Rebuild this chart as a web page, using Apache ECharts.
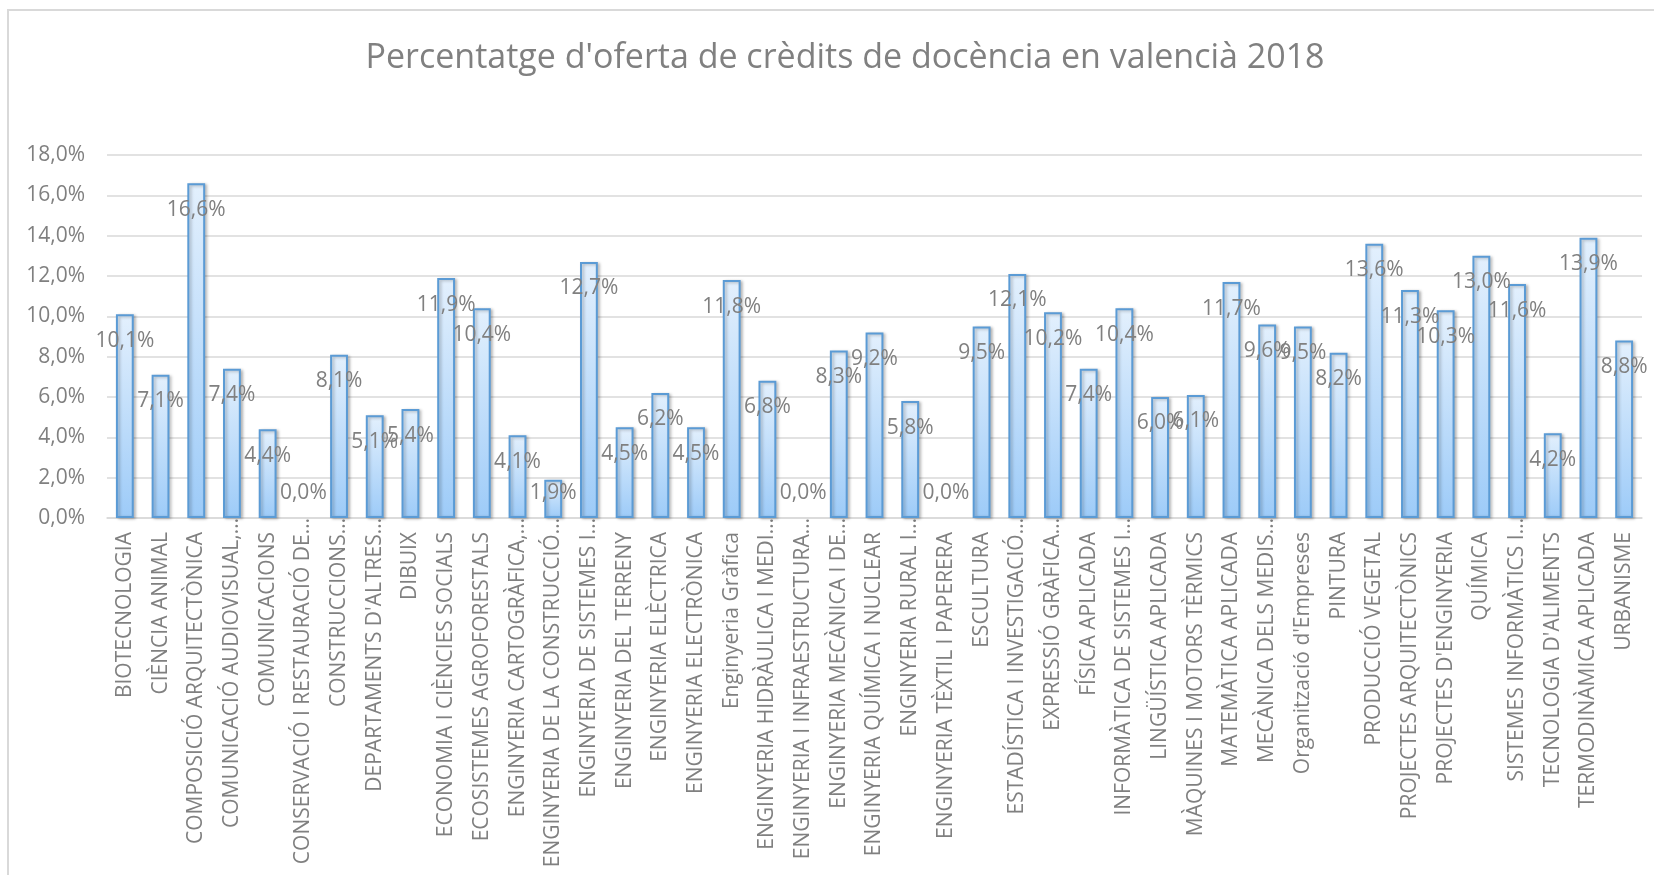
<!DOCTYPE html>
<html>
<head>
<meta charset="utf-8">
<title>Percentatge d'oferta de crèdits de docència en valencià 2018</title>
<script src="https://cdn.jsdelivr.net/npm/echarts/dist/echarts.min.js"></script>
<style>
	html,body{margin:0;padding:0;background:#fff;}
	#chart{width:1654px;height:875px;}
</style>
</head>
<body>
<div id="chart"></div>
<script>
	//departaments
	var departaments = [
		'BIOTECNOLOGIA','CIÈNCIA ANIMAL','COMPOSICIÓ ARQUITECTÒNICA','COMUNICACIÓ AUDIOVISUAL,…',
		'COMUNICACIONS','CONSERVACIÓ I RESTAURACIÓ DE…','CONSTRUCCIONS…',"DEPARTAMENTS D'ALTRES…",
		'DIBUIX','ECONOMIA I CIÈNCIES SOCIALS','ECOSISTEMES AGROFORESTALS','ENGINYERIA CARTOGRÀFICA,…',
		'ENGINYERIA DE LA CONSTRUCCIÓ…','ENGINYERIA DE SISTEMES I…','ENGINYERIA DEL TERRENY','ENGINYERIA ELÈCTRICA',
		'ENGINYERIA ELECTRÒNICA','Enginyeria Gràfica','ENGINYERIA HIDRÀULICA I MEDI…','ENGINYERIA I INFRAESTRUCTURA…',
		'ENGINYERIA MECÀNICA I DE…','ENGINYERIA QUÍMICA I NUCLEAR','ENGINYERIA RURAL I…','ENGINYERIA TÈXTIL I PAPERERA',
		'ESCULTURA','ESTADÍSTICA I INVESTIGACIÓ…','EXPRESSIÓ GRÀFICA…','FÍSICA APLICADA',
		'INFORMÀTICA DE SISTEMES I…','LINGÜÍSTICA APLICADA','MÀQUINES I MOTORS TÈRMICS','MATEMÀTICA APLICADA',
		'MECÀNICA DELS MEDIS…',"Organització d'Empreses",'PINTURA','PRODUCCIÓ VEGETAL',
		'PROJECTES ARQUITECTÒNICS',"PROJECTES D'ENGINYERIA",'QUÍMICA','SISTEMES INFORMÀTICS I…',
		"TECNOLOGIA D'ALIMENTS",'TERMODINÀMICA APLICADA','URBANISME'
	];
	//percentatge en valencià
	var percentatge = [
		10.1, 7.1, 16.6, 7.4, 4.4, 0.0, 8.1, 5.1, 5.4, 11.9, 10.4, 4.1, 1.9, 12.7, 4.5,
		6.2, 4.5, 11.8, 6.8, 0.0, 8.3, 9.2, 5.8, 0.0, 9.5, 12.1, 10.2, 7.4, 10.4, 6.0,
		6.1, 11.7, 9.6, 9.5, 8.2, 13.6, 11.3, 10.3, 13.0, 11.6, 4.2, 13.9, 8.8
	];
	var yMin = 0, yMax = 18, yStep = 2;

	var grisText = '#808080';
	var font = 'Open Sans';

	function pct(v){
		return v.toFixed(1).replace('.', ',') + '%';
	}

	var myChart = echarts.init(document.getElementById('chart'));

	var option = {
		backgroundColor: '#fff',
		animation: false,
		title: {
			text: "Percentatge d'oferta de crèdits de docència en valencià 2018",
			left: 840,
			top: 36,
			textAlign: 'center',
			textStyle: {
				color: grisText,
				fontFamily: font,
				fontWeight: 'normal',
				fontSize: 34
			}
		},
		graphic: [
			{
				type: 'rect',
				silent: true,
				shape: {x: 8, y: 10, width: 1700, height: 900},
				style: {fill: 'none', stroke: '#d9d9d9', lineWidth: 2}
			}
		],
		grid: {
			left: 107,
			right: 12,
			top: 155,
			bottom: 357,
			outerBoundsMode: 'none',
			containLabel: false
		},
		xAxis: {
			type: 'category',
			data: departaments,
			axisLine: {show: true, lineStyle: {color: '#d9d9d9', width: 1.5}},
			axisTick: {show: false},
			axisLabel: {
				interval: 0,
				rotate: 90,
				margin: 0,
				color: grisText,
				fontFamily: font,
				fontSize: 21,
				//les etiquetes tallades (…) arriben fins a l'eix, les altres queden separades
				formatter: function(v){
					if (v.charAt(v.length - 1) === '…') {
						return '{t|' + v + '}';
					}
					return '{t|' + v + '}{sp| }';
				},
				rich: {
					t: {color: grisText, fontFamily: font, fontSize: 21},
					sp: {width: 14, fontSize: 21}
				}
			}
		},
		yAxis: {
			type: 'value',
			min: yMin,
			max: yMax,
			interval: yStep,
			axisLine: {show: false},
			axisTick: {show: false},
			splitLine: {lineStyle: {color: '#d9d9d9', width: 1.5}},
			axisLabel: {
				margin: 22,
				color: grisText,
				fontFamily: font,
				fontSize: 21,
				formatter: function(v){ return pct(v); }
			}
		},
		series: [
			{
				name: 'Percentatge',
				type: 'bar',
				barWidth: '50%',
				itemStyle: {
					color: new echarts.graphic.LinearGradient(0, 0, 0, 1, [
						{offset: 0, color: '#e3f0fd'},
						{offset: 1, color: '#9dcbf8'}
					]),
					borderColor: '#5b9bd5',
					borderWidth: 2,
					shadowColor: 'rgba(0,0,0,0.25)',
					shadowBlur: 3,
					shadowOffsetX: 2,
					shadowOffsetY: 1
				},
				label: {
					show: true,
					position: 'insideTop',
					distance: 16,
					color: grisText,
					fontFamily: font,
					fontSize: 21,
					formatter: function(p){ return pct(p.value); }
				},
				data: function(){
					var serie = [];
					for (var i = 0; i < percentatge.length; i++) {
						if (percentatge[i] === 0) {
							//barra buida: sense vora, etiqueta damunt l'eix
							serie.push({
								value: percentatge[i],
								itemStyle: {borderWidth: 0, shadowBlur: 0, shadowOffsetX: 0, shadowOffsetY: 0},
								label: {position: 'insideBottom', distance: 14}
							});
						} else if (percentatge[i] < 2.5) {
							//barra curta: l'etiqueta no baixa de l'eix
							serie.push({
								value: percentatge[i],
								label: {position: 'insideBottom', distance: 14}
							});
						} else {
							serie.push(percentatge[i]);
						}
					}
					return serie;
				}()
			}
		]
	};

	myChart.setOption(option);
</script>
</body>
</html>
